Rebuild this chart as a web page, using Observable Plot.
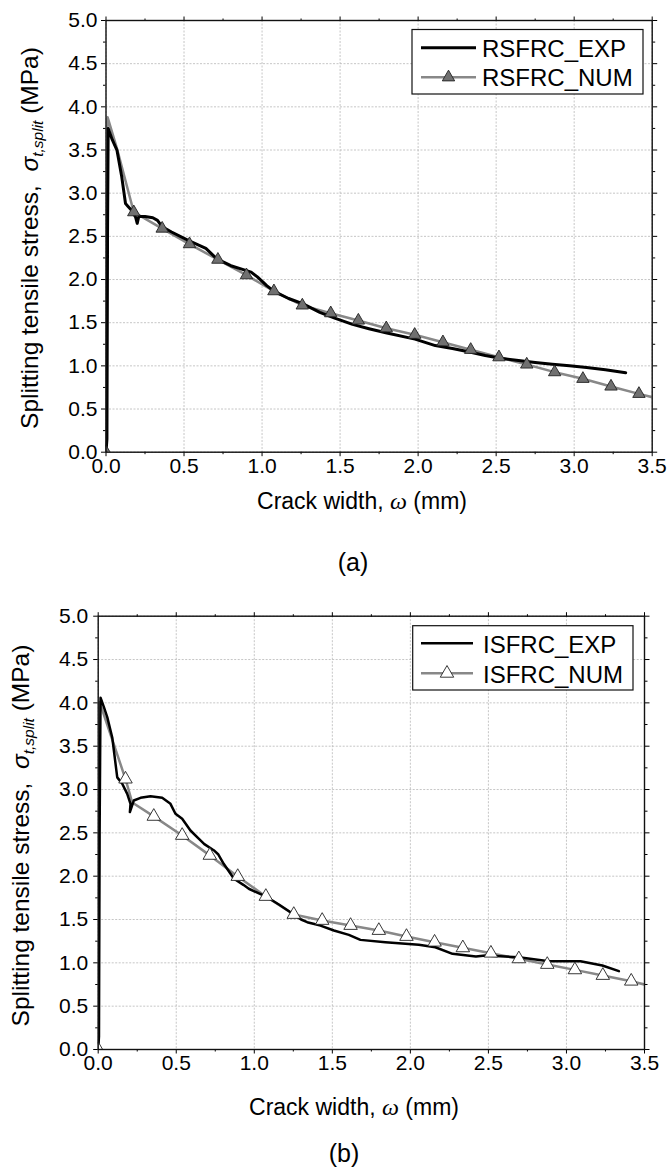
<!DOCTYPE html>
<html><head><meta charset="utf-8">
<script src="https://cdn.jsdelivr.net/npm/d3@7"></script>
<script src="https://cdn.jsdelivr.net/npm/@observablehq/plot@0.6"></script>
<style>
html,body{margin:0;padding:0;background:#fff;}
#chart svg{display:block;}
</style></head><body><div id="chart"></div>
<script>
// ---- tick values ----
const xMajor = [0, 0.5, 1.0, 1.5, 2.0, 2.5, 3.0, 3.5];
const xMinor = [0.25, 0.75, 1.25, 1.75, 2.25, 2.75, 3.25];
const yMajor = [0, 0.5, 1.0, 1.5, 2.0, 2.5, 3.0, 3.5, 4.0, 4.5, 5.0];
const yMinor = [0.25, 0.75, 1.25, 1.75, 2.25, 2.75, 3.25, 3.75, 4.25, 4.75];

// ---- panel (a): RSFRC ----
const rsfrcExp = [[0,0],[0.006,0.15],[0.01,2.6],[0.014,3.75],[0.04,3.62],[0.07,3.50],[0.10,3.20],[0.125,2.88],[0.14,2.85],[0.165,2.80],[0.19,2.72],[0.20,2.65],[0.21,2.73],[0.25,2.73],[0.30,2.715],[0.33,2.685],[0.36,2.61],[0.42,2.55],[0.53,2.45],[0.64,2.36],[0.71,2.24],[0.80,2.16],[0.87,2.12],[0.93,2.085],[0.97,2.03],[1.03,1.93],[1.08,1.86],[1.17,1.78],[1.26,1.72],[1.37,1.62],[1.47,1.55],[1.58,1.48],[1.685,1.43],[1.80,1.38],[1.98,1.31],[2.11,1.235],[2.22,1.20],[2.33,1.16],[2.43,1.12],[2.52,1.09],[2.63,1.065],[2.75,1.04],[2.86,1.02],[2.97,1.0],[3.08,0.98],[3.20,0.955],[3.33,0.92]];
const rsfrcNum = [[0,0],[0.01,3.88],[0.07,3.52],[0.178,2.78],[0.36,2.59],[0.535,2.41],[0.717,2.23],[0.90,2.05],[1.076,1.865],[1.258,1.70],[1.44,1.61],[1.617,1.525],[1.796,1.436],[1.978,1.36],[2.159,1.274],[2.337,1.186],[2.518,1.10],[2.696,1.016],[2.875,0.927],[3.056,0.85],[3.236,0.761],[3.415,0.676],[3.5,0.637]];
const rsfrcNumMarkers = [[0,0],[0.178,2.78],[0.36,2.59],[0.535,2.41],[0.717,2.23],[0.90,2.05],[1.076,1.865],[1.258,1.70],[1.44,1.61],[1.617,1.525],[1.796,1.436],[1.978,1.36],[2.159,1.274],[2.337,1.186],[2.518,1.10],[2.696,1.016],[2.875,0.927],[3.056,0.85],[3.236,0.761],[3.415,0.676]];

// ---- panel (b): ISFRC ----
const isfrcExp = [[0,0],[0.005,0.15],[0.009,2.5],[0.015,4.06],[0.035,3.96],[0.058,3.835],[0.09,3.60],[0.122,3.14],[0.154,3.066],[0.186,2.95],[0.207,2.835],[0.203,2.74],[0.228,2.873],[0.271,2.904],[0.335,2.923],[0.41,2.904],[0.463,2.835],[0.495,2.72],[0.538,2.662],[0.591,2.527],[0.634,2.45],[0.68,2.37],[0.74,2.30],[0.77,2.25],[0.805,2.14],[0.87,1.97],[0.93,1.90],[0.965,1.855],[1.083,1.757],[1.16,1.67],[1.232,1.584],[1.30,1.50],[1.339,1.469],[1.424,1.43],[1.51,1.373],[1.606,1.323],[1.68,1.265],[1.84,1.238],[2.054,1.21],[2.16,1.18],[2.27,1.104],[2.42,1.073],[2.48,1.085],[2.695,1.065],[2.887,1.019],[3.09,1.019],[3.23,0.969],[3.336,0.904]];
const isfrcNum = [[0,0],[0.009,4.01],[0.175,3.12],[0.218,2.85],[0.356,2.69],[0.538,2.47],[0.715,2.24],[0.894,1.996],[1.074,1.766],[1.253,1.558],[1.435,1.489],[1.617,1.431],[1.798,1.373],[1.975,1.304],[2.155,1.238],[2.336,1.173],[2.516,1.111],[2.695,1.046],[2.877,0.981],[3.054,0.919],[3.233,0.854],[3.415,0.788],[3.5,0.75]];
const isfrcNumMarkers = [[0,0],[0.175,3.12],[0.356,2.69],[0.538,2.47],[0.715,2.24],[0.894,1.996],[1.074,1.766],[1.253,1.558],[1.435,1.489],[1.617,1.431],[1.798,1.373],[1.975,1.304],[2.155,1.238],[2.336,1.173],[2.516,1.111],[2.695,1.046],[2.877,0.981],[3.054,0.919],[3.233,0.854],[3.415,0.788]];

const seriesLabels = {a: ["RSFRC_EXP", "RSFRC_NUM"], b: ["ISFRC_EXP", "ISFRC_NUM"]};
const panelTags = {a: "(a)", b: "(b)"};

const FONT = "'Liberation Sans', Arial, Helvetica, sans-serif";
const SERIF = "'Liberation Serif', 'Times New Roman', serif";

function panel(cfg) {
  const fmt = d => d.toFixed(1);
  const blank = () => "";
  const svg = Plot.plot({
    width: 670, height: cfg.height,
    marginTop: cfg.mt, marginLeft: cfg.ml, marginRight: cfg.mr, marginBottom: cfg.mb,
    x: {domain: [0, 3.5], label: null},
    y: {domain: [0, 5], label: null},
    style: {fontFamily: FONT, fontSize: "21px", color: "#000", background: "#fff", overflow: "visible"},
    marks: [
      Plot.gridX(xMajor, {stroke: "#b8b8b8", strokeOpacity: 1, strokeWidth: 0.8, strokeDasharray: "2,1.5"}),
      Plot.gridY(yMajor, {stroke: "#b8b8b8", strokeOpacity: 1, strokeWidth: 0.8, strokeDasharray: "2,1.5"}),
      Plot.line(cfg.num, {x: d => d[0], y: d => d[1], stroke: "#888", strokeWidth: 2.5, clip: true}),
      Plot.line(cfg.exp, {x: d => d[0], y: d => d[1], stroke: "#000", strokeWidth: cfg.expWidth, clip: true}),
      Plot.dot(cfg.markers, {x: d => d[0], y: d => d[1], symbol: "triangle", r: cfg.markerR, fill: cfg.markerFill, stroke: "#222", strokeWidth: 0.9, clip: true}),
      Plot.axisX(xMajor, {anchor: "bottom", tickSize: 4.5, tickPadding: 1.5, tickFormat: fmt, fontSize: 21, label: null}),
      Plot.axisX(xMinor, {anchor: "bottom", tickSize: 2.5, tickFormat: blank, label: null}),
      Plot.axisX(xMajor, {anchor: "top", tickSize: 4.5, tickFormat: blank, label: null}),
      Plot.axisX(xMinor, {anchor: "top", tickSize: 2.5, tickFormat: blank, label: null}),
      Plot.axisY(yMajor, {anchor: "left", tickSize: 4.5, tickPadding: cfg.ypad, tickFormat: fmt, fontSize: 21, label: null}),
      Plot.axisY(yMinor, {anchor: "left", tickSize: 2.5, tickFormat: blank, label: null}),
      Plot.axisY(yMajor, {anchor: "right", tickSize: 4.5, tickFormat: blank, label: null}),
      Plot.axisY(yMinor, {anchor: "right", tickSize: 2.5, tickFormat: blank, label: null}),
      Plot.frame({stroke: "#111", strokeWidth: 1.4})
    ]
  });
  const s = d3.select(svg);
  s.selectAll("text").style("font-size", "21px").style("font-family", FONT).attr("fill", "#000");
  // y axis title
  const yt = s.append("text")
    .attr("transform", `translate(${cfg.yTitleX},${cfg.yTitleY}) rotate(-90)`)
    .attr("text-anchor", "middle").style("font-size", "24.5px").style("font-family", FONT)
    .attr("fill", "#000").style("white-space", "pre");
  yt.append("tspan").text("Splitting tensile stress,  ");
  yt.append("tspan").attr("font-style", "italic").text("σ");
  yt.append("tspan").attr("font-style", "italic").style("font-size", "15.5px").attr("dy", 5).text("t,split");
  yt.append("tspan").attr("dy", -5).text(" (MPa)");
  // x axis title
  const xt = s.append("text")
    .attr("x", cfg.xTitleX).attr("y", cfg.xTitleY)
    .attr("text-anchor", "middle").style("font-size", "23px").style("font-family", FONT)
    .attr("fill", "#000").style("white-space", "pre");
  xt.append("tspan").text("Crack width, ");
  xt.append("tspan").style("font-family", SERIF).attr("font-style", "italic").style("font-size", "24px").text("ω");
  xt.append("tspan").text(" (mm)");
  // panel tag
  s.append("text").attr("x", cfg.tagX).attr("y", cfg.tagY).attr("text-anchor", "middle")
    .style("font-size", "25px").style("font-family", FONT).attr("fill", "#000").text(cfg.tag);
  // legend
  const L = cfg.legend;
  const g = s.append("g").attr("fill", "#000").attr("text-anchor", "start");
  g.append("rect").attr("x", L.x0).attr("y", L.y0).attr("width", L.x1 - L.x0).attr("height", L.y1 - L.y0)
    .attr("fill", "#fff").attr("stroke", "#111").attr("stroke-width", 1.2);
  g.append("line").attr("x1", L.lx0).attr("x2", L.lx1).attr("y1", L.r1).attr("y2", L.r1)
    .attr("stroke", "#000").attr("stroke-width", cfg.expWidth);
  g.append("text").attr("x", L.tx).attr("y", L.b1).attr("text-anchor", "start")
    .style("font-size", "24px").style("font-family", FONT).text(cfg.labels[0]);
  g.append("line").attr("x1", L.lx0).attr("x2", L.lx1).attr("y1", L.r2).attr("y2", L.r2)
    .attr("stroke", "#888").attr("stroke-width", 2.5);
  const cx = (L.lx0 + L.lx1) / 2;
  g.append("path").attr("transform", `translate(${cx},${L.r2})`)
    .attr("d", d3.symbol(d3.symbolTriangle, Math.PI * cfg.markerR * cfg.markerR)())
    .attr("fill", cfg.markerFill).attr("stroke", "#222").attr("stroke-width", 0.9);
  g.append("text").attr("x", L.tx).attr("y", L.b2).attr("text-anchor", "start")
    .style("font-size", "24px").style("font-family", FONT).text(cfg.labels[1]);
  return svg;
}

const root = document.getElementById("chart");
root.appendChild(panel({
  exp: rsfrcExp, num: rsfrcNum, markers: rsfrcNumMarkers, markerFill: "#707070", markerR: 4.6, expWidth: 3,
  labels: seriesLabels.a, tag: panelTags.a,
  height: 590, mt: 20, ml: 105.5, mr: 18.3, mb: 138.3, ypad: 4,
  yTitleX: 38, yTitleY: 238, xTitleX: 362, xTitleY: 509, tagX: 353, tagY: 571,
  legend: {x0: 412, x1: 643, y0: 29.5, y1: 94, lx0: 421, lx1: 476, tx: 482, r1: 47.7, r2: 77.3, b1: 56.5, b2: 85.5}
}));
root.appendChild(panel({
  exp: isfrcExp, num: isfrcNum, markers: isfrcNumMarkers, markerFill: "#fff", markerR: 5, expWidth: 2.5,
  labels: seriesLabels.b, tag: panelTags.b,
  height: 580, mt: 25.7, ml: 97.7, mr: 26, mb: 121, ypad: 5.5,
  yTitleX: 28.5, yTitleY: 245.5, xTitleX: 354, xTitleY: 525, tagX: 344, tagY: 572,
  legend: {x0: 412.7, x1: 633, y0: 35.7, y1: 100, lx0: 421, lx1: 473, tx: 483, r1: 53.3, r2: 83.3, b1: 63, b2: 93}
}));
</script>
</body></html>
